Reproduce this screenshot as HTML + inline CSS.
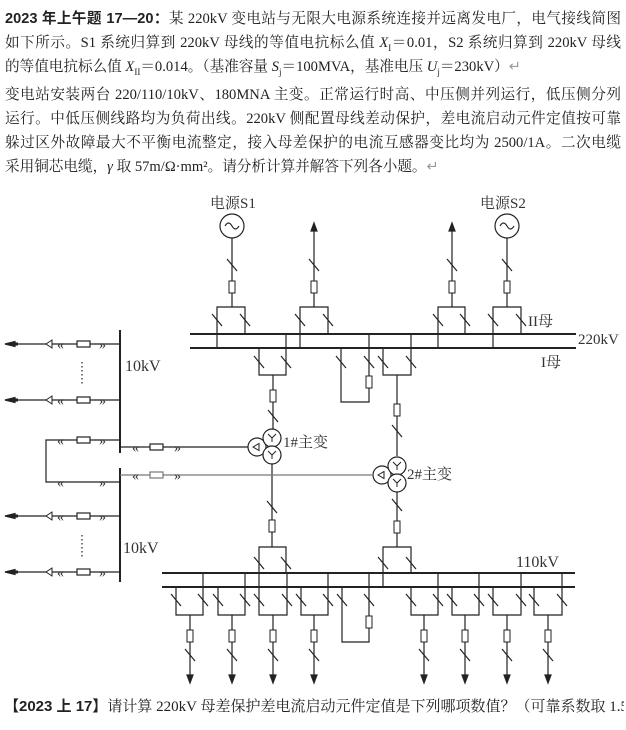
<!DOCTYPE html>
<html><head><meta charset="utf-8">
<style>
html,body{margin:0;padding:0;background:#fff;}
body{width:626px;height:730px;overflow:hidden;position:relative;font-family:"Liberation Serif","Noto Serif CJK SC","Noto Sans CJK SC",serif;color:#222;}
.t{position:absolute;left:5px;width:616px;font-size:14.6px;line-height:24px;white-space:nowrap;}
.j{text-align:justify;text-align-last:justify;white-space:normal;height:24px;overflow:hidden;}
b{font-family:"Liberation Sans","Noto Sans CJK SC",sans-serif;}
svg{position:absolute;left:0;top:0;}
</style></head><body>
<div class="t j" style="top:7px"><b>2023 年上午题 17—20：</b>某 220kV 变电站与无限大电源系统连接并远离发电厂，电气接线简图</div>
<div class="t j" style="top:31px">如下所示。S1 系统归算到 220kV 母线的等值电抗标么值 <i>X</i><sub style="font-size:9px">I</sub>＝0.01，S2 系统归算到 220kV 母线</div>
<div class="t" style="top:55px">的等值电抗标么值 <i>X</i><sub style="font-size:9px">II</sub>＝0.014。（基准容量 <i>S</i><sub style="font-size:9px">j</sub>＝100MVA，基准电压 <i>U</i><sub style="font-size:9px">j</sub>＝230kV）<span style="color:#999">↵</span></div>
<div class="t j" style="top:83px">变电站安装两台 220/110/10kV、180MNA 主变。正常运行时高、中压侧并列运行，低压侧分列</div>
<div class="t j" style="top:107px">运行。中低压侧线路均为负荷出线。220kV 侧配置母线差动保护，差电流启动元件定值按可靠</div>
<div class="t j" style="top:131px">躲过区外故障最大不平衡电流整定，接入母差保护的电流互感器变比均为 2500/1A。二次电缆</div>
<div class="t" style="top:155px">采用铜芯电缆，<i>γ</i> 取 57m/Ω·mm²。请分析计算并解答下列各小题。<span style="color:#999">↵</span></div>
<div class="t" style="top:695px;left:4px;width:620px;overflow:hidden;font-size:15px"><b>【2023 上 17】</b>请计算 220kV 母差保护差电流启动元件定值是下列哪项数值？（可靠系数取 1.5）</div>

<svg width="626" height="730" viewBox="0 0 626 730" xmlns="http://www.w3.org/2000/svg">
<defs>
<g id="s"><line x1="-5" y1="-6" x2="5" y2="6" stroke="#222" stroke-width="1.2"/></g>
<g id="b"><rect x="-3" y="-6" width="6" height="12" fill="#fff" stroke="#222" stroke-width="1"/></g>
<g id="au"><polygon points="0,-8 -3,0 3,0" fill="#222"/></g>
<g id="ad"><polygon points="0,8 -3,0 3,0" fill="#222"/></g>
<g id="feed">
<line x1="-115" y1="0" x2="0" y2="0" stroke="#222" stroke-width="1.2"/>
<polygon points="-115,0 -105,-2.5 -105,2.5" fill="#222"/>
<line x1="-108" y1="0" x2="-102" y2="0" stroke="#222" stroke-width="3"/>
<polygon points="-74,0 -68,-4 -68,4" fill="#fff" stroke="#222" stroke-width="1"/>
<rect x="-43" y="-3" width="13" height="6" fill="#fff" stroke="#222"/>
</g>
</defs>
<g stroke="#222" fill="none" stroke-width="1.2" font-family="Liberation Serif, Noto Serif CJK SC, serif">
<line x1="190" y1="334" x2="576" y2="334" stroke-width="2"/>
<line x1="190" y1="348" x2="576" y2="348" stroke-width="2"/>
<path d="M217,348 V307 H245 V334"/>
<path d="M300,348 V307 H328 V334"/>
<path d="M438,348 V307 H465 V334"/>
<path d="M493,348 V307 H521 V334"/>
<use href="#s" x="217" y="320"/><use href="#s" x="245" y="320"/>
<use href="#s" x="300" y="320"/><use href="#s" x="328" y="320"/>
<use href="#s" x="438" y="320"/><use href="#s" x="465" y="320"/>
<use href="#s" x="493" y="320"/><use href="#s" x="521" y="320"/>
<line x1="232" y1="307" x2="232" y2="238"/>
<line x1="314" y1="307" x2="314" y2="228"/>
<line x1="452" y1="307" x2="452" y2="228"/>
<line x1="507" y1="307" x2="507" y2="238"/>
<use href="#au" x="314" y="231"/><use href="#au" x="452" y="231"/>
<use href="#b" x="232" y="287"/><use href="#b" x="314" y="287"/><use href="#b" x="452" y="287"/><use href="#b" x="507" y="287"/>
<use href="#s" x="232" y="265"/><use href="#s" x="314" y="265"/><use href="#s" x="452" y="265"/><use href="#s" x="507" y="265"/>
<circle cx="232" cy="226" r="12"/><circle cx="507" cy="226" r="12"/>
<path d="M225,226 q3.5,-6 7,0 t7,0"/><path d="M500,226 q3.5,-6 7,0 t7,0"/>
<g stroke="none" fill="#333" font-size="15">
<text x="210" y="208">电源S1</text><text x="480" y="208">电源S2</text>
<text x="528" y="326">II母</text><text x="578" y="344">220kV</text><text x="541" y="367">I母</text>
</g>
<path d="M259,348 V375 H286 V334"/>
<use href="#s" x="259" y="362"/><use href="#s" x="286" y="362"/>
<line x1="273" y1="375" x2="273" y2="429"/>
<use href="#b" x="273" y="396"/><use href="#s" x="273" y="416"/>
<path d="M341,348 V402 H369 V334"/>
<use href="#s" x="341" y="362"/><use href="#s" x="369" y="362"/><use href="#b" x="369" y="382"/>
<path d="M383,348 V375 H411 V334"/>
<use href="#s" x="383" y="362"/><use href="#s" x="411" y="362"/>
<line x1="397" y1="375" x2="397" y2="456"/>
<use href="#b" x="397" y="410"/><use href="#s" x="397" y="431"/>
<circle cx="257" cy="447" r="9" fill="#fff"/><circle cx="272" cy="438" r="9" fill="#fff"/><circle cx="272" cy="455" r="9" fill="#fff"/>
<polygon points="253,447 259,443.5 259,450.5" stroke-width="1"/>
<path d="M268,434 L272,438 L276,434 M272,438 V442 M268,451 L272,455 L276,451 M272,455 V459" stroke-width="1"/>
<circle cx="382" cy="475" r="9" fill="#fff"/><circle cx="397" cy="466" r="9" fill="#fff"/><circle cx="397" cy="483" r="9" fill="#fff"/>
<polygon points="378,475 384,471.5 384,478.5" stroke-width="1"/>
<path d="M393,462 L397,466 L401,462 M397,466 V470 M393,479 L397,483 L401,479 M397,483 V487" stroke-width="1"/>
<g stroke="none" fill="#333" font-size="15"><text x="283" y="447">1#主变</text><text x="407" y="479">2#主变</text></g>
<line x1="272" y1="464" x2="272" y2="547"/>
<use href="#s" x="272" y="507"/><use href="#b" x="272" y="526"/>
<line x1="397" y1="492" x2="397" y2="547"/>
<use href="#s" x="397" y="505"/><use href="#b" x="397" y="527"/>
<line x1="120" y1="330" x2="120" y2="453" stroke-width="2"/>
<line x1="120" y1="468" x2="120" y2="582" stroke-width="2"/>
<use href="#feed" x="120" y="344"/><use href="#feed" x="120" y="400"/>
<use href="#feed" x="120" y="516"/><use href="#feed" x="120" y="572"/>
<path d="M120,440 H46 V482 H120"/>
<rect x="77" y="437" width="13" height="6" fill="#fff" stroke="#222"/>
<line x1="120" y1="447" x2="248" y2="447"/>
<rect x="150" y="444" width="13" height="6" fill="#fff" stroke="#222"/>
<line x1="120" y1="475" x2="373" y2="475" stroke="#777"/>
<rect x="150" y="472" width="13" height="6" fill="#fff" stroke="#777"/>
<g stroke="none" fill="#333" font-size="14">
<text x="57" y="349">«</text><text x="99" y="349">»</text>
<text x="57" y="405">«</text><text x="99" y="405">»</text>
<text x="57" y="445">«</text><text x="99" y="445">»</text>
<text x="57" y="487">«</text><text x="99" y="487">»</text>
<text x="57" y="521">«</text><text x="99" y="521">»</text>
<text x="57" y="577">«</text><text x="99" y="577">»</text>
<text x="132" y="452">«</text><text x="174" y="452">»</text>
<text x="132" y="480">«</text><text x="174" y="480">»</text>
</g>
<line x1="82" y1="362" x2="82" y2="384" stroke-dasharray="1.5,2.5"/>
<line x1="82" y1="535" x2="82" y2="557" stroke-dasharray="1.5,2.5"/>
<g stroke="none" fill="#333" font-size="16"><text x="125" y="371">10kV</text><text x="123" y="553">10kV</text><text x="516" y="567">110kV</text></g>
<line x1="162" y1="573" x2="575" y2="573" stroke-width="2"/>
<line x1="162" y1="587" x2="575" y2="587" stroke-width="2"/>
<path d="M259,587 V547 H286 V573"/><use href="#s" x="259" y="563"/><use href="#s" x="286" y="563"/>
<path d="M383,587 V547 H411 V573"/><use href="#s" x="383" y="563"/><use href="#s" x="411" y="563"/>
<path d="M342,587 V642 H369 V573"/><use href="#s" x="342" y="600"/><use href="#s" x="369" y="600"/><use href="#b" x="369" y="622"/>
<path d="M176,587 V615 H203 V573"/>
<path d="M218,587 V615 H245 V573"/>
<path d="M259,587 V615 H287 V573"/>
<path d="M301,587 V615 H328 V573"/>
<path d="M411,587 V615 H438 V573"/>
<path d="M452,587 V615 H479 V573"/>
<path d="M493,587 V615 H521 V573"/>
<path d="M534,587 V615 H562 V573"/>
<use href="#s" x="176" y="600"/><use href="#s" x="203" y="600"/>
<use href="#s" x="218" y="600"/><use href="#s" x="245" y="600"/>
<use href="#s" x="259" y="600"/><use href="#s" x="287" y="600"/>
<use href="#s" x="301" y="600"/><use href="#s" x="328" y="600"/>
<use href="#s" x="411" y="600"/><use href="#s" x="438" y="600"/>
<use href="#s" x="452" y="600"/><use href="#s" x="479" y="600"/>
<use href="#s" x="493" y="600"/><use href="#s" x="521" y="600"/>
<use href="#s" x="534" y="600"/><use href="#s" x="562" y="600"/>
<path d="M190,615 V676 M232,615 V676 M273,615 V676 M314,615 V676 M424,615 V676 M465,615 V676 M507,615 V676 M548,615 V676"/>
<use href="#b" x="190" y="636"/><use href="#b" x="232" y="636"/><use href="#b" x="273" y="636"/><use href="#b" x="314" y="636"/>
<use href="#b" x="424" y="636"/><use href="#b" x="465" y="636"/><use href="#b" x="507" y="636"/><use href="#b" x="548" y="636"/>
<use href="#s" x="190" y="655"/><use href="#s" x="232" y="655"/><use href="#s" x="273" y="655"/><use href="#s" x="314" y="655"/>
<use href="#s" x="424" y="655"/><use href="#s" x="465" y="655"/><use href="#s" x="507" y="655"/><use href="#s" x="548" y="655"/>
<use href="#ad" x="190" y="675"/><use href="#ad" x="232" y="675"/><use href="#ad" x="273" y="675"/><use href="#ad" x="314" y="675"/>
<use href="#ad" x="424" y="675"/><use href="#ad" x="465" y="675"/><use href="#ad" x="507" y="675"/><use href="#ad" x="548" y="675"/>
</g>
</svg>
</body></html>
